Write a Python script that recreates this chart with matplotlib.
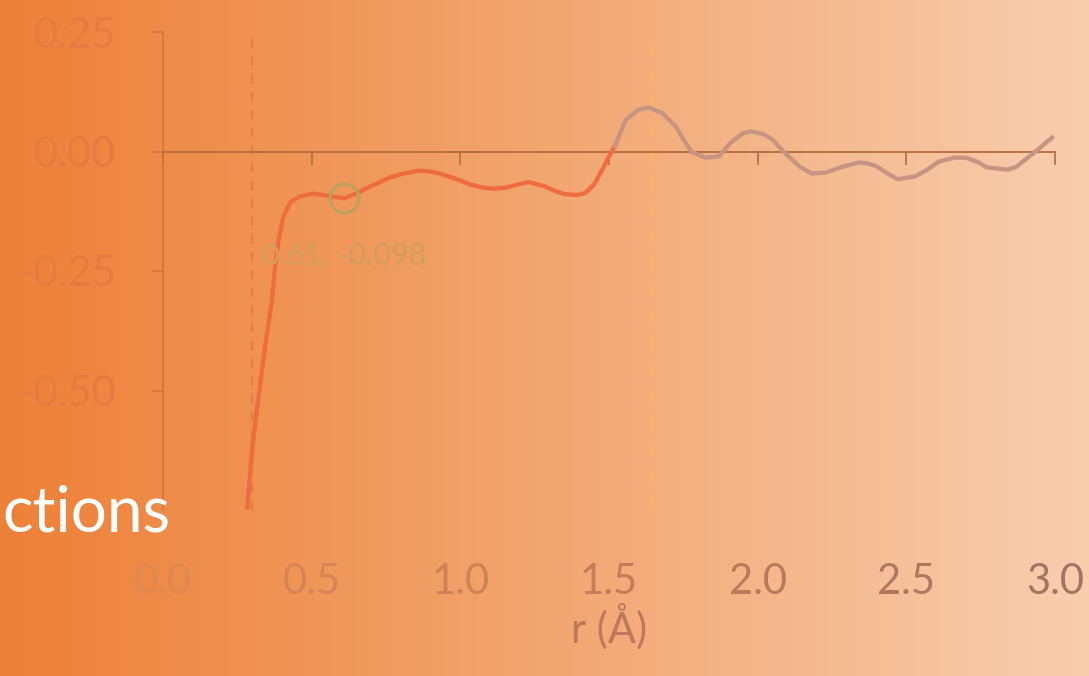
import numpy as np
import matplotlib.pyplot as plt
from matplotlib.colors import to_rgb

plt.rcParams['font.family'] = ['Lato', 'DejaVu Sans']

# g(r) curve, split where the line changes colour
r_low = [0.283, 0.30, 0.32, 0.345, 0.367, 0.375, 0.39, 0.405, 0.43, 0.46, 0.505,
         0.55, 0.61, 0.65, 0.69, 0.73, 0.76, 0.81, 0.86, 0.90, 0.93, 0.98, 1.03,
         1.07, 1.11, 1.15, 1.20, 1.23, 1.26, 1.28, 1.32, 1.35, 1.39, 1.42, 1.45,
         1.48, 1.50, 1.52]
g_low = [-0.75, -0.62, -0.52, -0.40, -0.31, -0.25, -0.18, -0.135, -0.105, -0.094, -0.088,
         -0.092, -0.098, -0.088, -0.075, -0.064, -0.055, -0.046, -0.040, -0.042, -0.046, -0.056, -0.068,
         -0.075, -0.078, -0.076, -0.068, -0.064, -0.069, -0.072, -0.083, -0.089, -0.091, -0.087, -0.069,
         -0.035, -0.010, 0.012]
r_high = [1.52, 1.557, 1.60, 1.634, 1.68, 1.725, 1.75, 1.78, 1.825, 1.87, 1.91, 1.95,
          1.98, 2.02, 2.05, 2.09, 2.14, 2.18, 2.23, 2.28, 2.34, 2.37, 2.40, 2.44,
          2.47, 2.53, 2.57, 2.61, 2.66, 2.70, 2.74, 2.77, 2.84, 2.87, 2.90, 2.95, 2.99]
g_high = [0.012, 0.067, 0.088, 0.092, 0.080, 0.052, 0.025, -0.002, -0.013, -0.010, 0.019, 0.038,
          0.042, 0.036, 0.025, -0.002, -0.031, -0.046, -0.044, -0.033, -0.023, -0.025, -0.031, -0.047,
          -0.058, -0.052, -0.038, -0.021, -0.013, -0.013, -0.022, -0.033, -0.038, -0.032, -0.017, 0.008, 0.029]

marker_r, marker_g = 0.61, -0.098
vlines_r = [0.30, 1.64]

xticks = [0.0, 0.5, 1.0, 1.5, 2.0, 2.5, 3.0]
xtick_labels = ['0.0', '0.5', '1.0', '1.5', '2.0', '2.5', '3.0']
yticks = [-0.5, -0.25, 0.0, 0.25]
ytick_labels = ['-0.50', '-0.25', '0.00', '0.25']

W, H = 1089, 676
fig = plt.figure(figsize=(W / 100, H / 100), dpi=100)

# orange slide gradient behind everything
bg = fig.add_axes([0, 0, 1, 1], zorder=0)
stops = np.array([0.0, 0.5, 1.0])
stop_cols = np.array([[237, 128, 55], [242, 166, 112], [248, 206, 175]]) / 255
t = np.linspace(0, 1, W)
grad = np.stack([np.interp(t, stops, stop_cols[:, k]) for k in range(3)], axis=-1)
bg.imshow(grad[np.newaxis, :, :], aspect='auto', extent=[0, 1, 0, 1])
bg.set_axis_off()

ax = fig.add_axes([163 / W, 1 - 510 / H, (1055 - 163) / W, (510 - 32) / H], zorder=1)
ax.set_facecolor('none')
ax.set_xlim(0, 3.0)
ax.set_ylim(-0.75, 0.25)

ax.axvline(vlines_r[0], color='#DE7E48', lw=1.6, ls=(0, (4, 4)), zorder=1)
ax.axvline(vlines_r[1], color='#F6B46A', lw=2.4, ls=(0, (4, 4)), zorder=1)

ax.plot(r_low, g_low, color='#EE6C3E', lw=3.1, solid_joinstyle='round', zorder=3)
ax.plot(r_high, g_high, color='#C79484', lw=3.1, solid_joinstyle='round', zorder=3)
ax.plot([marker_r], [marker_g], 'o', ms=21, mfc='none', mec='#BFA05A', mew=2.3, zorder=4)
ax.annotate(f'{marker_r:.2f}, {marker_g:.3f}', (marker_r, marker_g), xytext=(0, -41),
            textcoords='offset points', ha='center', va='center', fontsize=22, color='#D19E5C')

for s in ['top', 'right']:
    ax.spines[s].set_visible(False)
ax.spines['bottom'].set_position(('data', 0))
ax.spines['bottom'].set_color('#B46C3E')
ax.spines['bottom'].set_linewidth(1.3)
ax.spines['left'].set_color('#CC7440')
ax.spines['left'].set_linewidth(1.1)

ax.set_xticks(xticks)
ax.tick_params(axis='x', direction='out', length=9, width=1.2, color='#B46C3E', labelbottom=False)
ax.set_yticks(yticks, ytick_labels)
ax.tick_params(axis='y', direction='out', length=8, width=1.1, color='#CC7440', pad=26,
               labelsize=30, labelcolor='#E27C40')

sec = ax.secondary_xaxis('bottom')
sec.set_xticks(xticks, xtick_labels)
sec.tick_params(length=0, pad=38, labelsize=30)
sec.spines['bottom'].set_visible(False)
c0, c1 = np.array(to_rgb('#E08852')), np.array(to_rgb('#A87260'))
for i, lbl in enumerate(sec.get_xticklabels()):
    lbl.set_color(tuple(c0 + (c1 - c0) * i / (len(xticks) - 1)))
sec.set_xlabel('r (Å)', fontsize=30, color='#C0785A', labelpad=2)

fig.text(2 / W, 1 - 532 / H, 'ctions', ha='left', va='baseline', fontsize=46,
         color='white', zorder=5)

fig.savefig('out.png', dpi=100)
